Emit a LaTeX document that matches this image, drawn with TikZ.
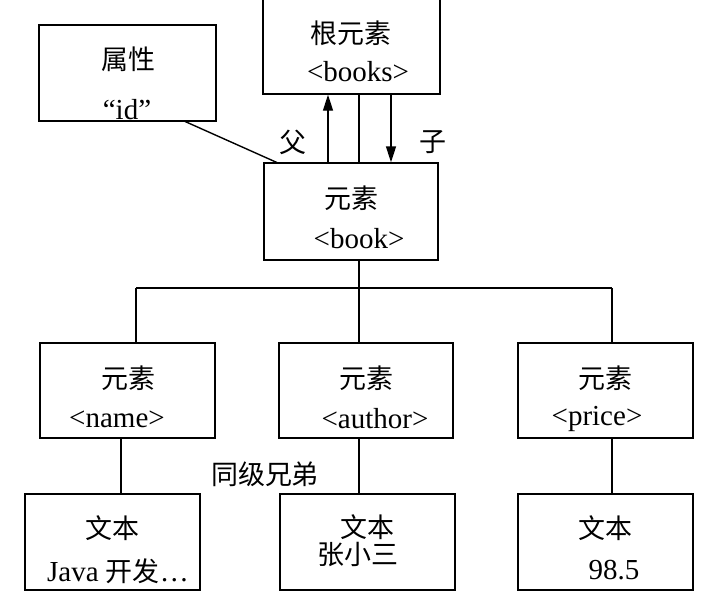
\documentclass[tikz,border=0pt]{standalone}
\usepackage{fontspec}
\setmainfont{Liberation Serif}
\newfontfamily\cjk{Noto Sans CJK SC}[Scale=0.93]
\usetikzlibrary{arrows.meta}
\begin{document}
\begin{tikzpicture}[x=1pt,y=-1pt,line width=1.4pt,
  box/.style={draw,rectangle,inner sep=0pt},
  lbl/.style={inner sep=0pt,font=\fontsize{29}{32}\selectfont},
  arr/.style={-{Triangle[length=16pt,width=10pt]}}]
\useasboundingbox (0,0) rectangle (720,600);
% boxes
\node[box,minimum width=177,minimum height=104] (root) at (351.5,42) {};
\node[box,minimum width=177,minimum height=96] (attr) at (127.5,73) {};
\node[box,minimum width=174,minimum height=97] (book) at (351,211.5) {};
\node[box,minimum width=175,minimum height=95] (name) at (127.5,390.5) {};
\node[box,minimum width=174,minimum height=95] (author) at (366,390.5) {};
\node[box,minimum width=175,minimum height=95] (price) at (605.5,390.5) {};
\node[box,minimum width=175,minimum height=96] (t1) at (112.5,542) {};
\node[box,minimum width=175,minimum height=96] (t2) at (367.5,542) {};
\node[box,minimum width=175,minimum height=96] (t3) at (605.5,542) {};
% texts
\node[lbl] (rootA) at (351,33) {\cjk 根元素};
\node[lbl] (rootB) at (358,72) {<books>};
\node[lbl] (attrA) at (128,59) {\cjk 属性};
\node[lbl] (attrB) at (127,110) {“id”};
\node[lbl] (bookA) at (351,198) {\cjk 元素};
\node[lbl] (bookB) at (359,239) {<book>};
\node[lbl] (nameA) at (128,378) {\cjk 元素};
\node[lbl] (nameB) at (117,419) {<name>};
\node[lbl] (authA) at (366,378) {\cjk 元素};
\node[lbl] (authB) at (375,419) {<author>};
\node[lbl] (priceA) at (605,378) {\cjk 元素};
\node[lbl] (priceB) at (597,419) {<price>};
\node[lbl] (t1A) at (112,528) {\cjk 文本};
\node[lbl] (t1B) at (118,571) {Java {\cjk 开发}…};
\node[lbl] (t2A) at (367,527) {\cjk 文本};
\node[lbl] (t2B) at (358,554) {\cjk 张小三};
\node[lbl] (t3A) at (605,528) {\cjk 文本};
\node[lbl] (t3B) at (614,570) {98.5};
\node[lbl] (fu) at (293,142) {\cjk 父};
\node[lbl] (zi) at (433,142) {\cjk 子};
\node[lbl] (sib) at (265,474) {\cjk 同级兄弟};
% connectors
\coordinate (ac) at (184,121);
\coordinate (bc) at (278,163);
\draw (ac) -- (bc);
\draw[arr] (book.north -| 328,0) -- (root.south -| 328,0);
\draw (book.north -| 359,0) -- (root.south -| 359,0);
\draw[arr] (root.south -| 391,0) -- (book.north -| 391,0);
\coordinate (busL) at (136,288);
\coordinate (busM) at (359,288);
\coordinate (busR) at (612,288);
\draw (book.south -| busM) -- (busM);
\draw (busL) -- (busR);
\draw (busL) -- (busL |- name.north);
\draw (busM) -- (busM |- author.north);
\draw (busR) -- (busR |- price.north);
\draw (name.south -| 121,0) -- (t1.north -| 121,0);
\draw (author.south -| 359,0) -- (t2.north -| 359,0);
\draw (price.south -| 612,0) -- (t3.north -| 612,0);
\end{tikzpicture}
\end{document}
